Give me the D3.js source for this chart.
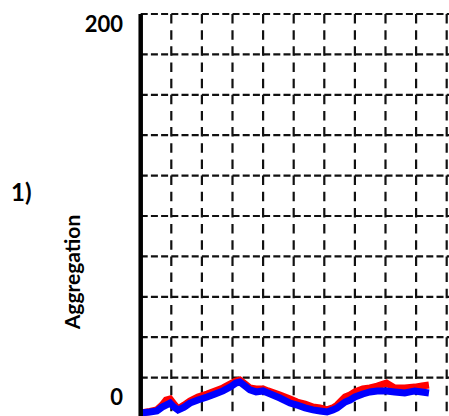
<!DOCTYPE html>
<html>
<head>
<meta charset="utf-8">
<script src="https://cdn.jsdelivr.net/npm/d3@7"></script>
<style>
  html, body { margin: 0; padding: 0; background: #fff; }
  svg { display: block; }
  text { font-family: Lato, "Open Sans", sans-serif; font-weight: 700; fill: #000; }
</style>
</head>
<body>
<svg id="chart" width="449" height="416"></svg>
<script>
// Time axis (arbitrary units, 0-100 across the panel)
const time = [0, 3, 5.3, 7, 8.3, 9.6, 10.9, 12.2, 14.2, 16.1, 18.7, 21.7, 24.3, 26.9, 29.2, 31.1,
  32.4, 34.1, 35.7, 37.7, 40, 41.6, 45.5, 48.8, 51.1, 53.7, 56.3, 58.6, 60.9, 62.8, 64.2, 66.8,
  68.4, 70, 72.6, 74.9, 77.3, 80.3, 83, 86.3, 89.6, 91.9, 94.2];

// Aggregation, red series
const aggregationRed = [2.5, 3.2, 4.0, 6.4, 8.9, 9.4, 6.9, 4.5, 6.4, 8.4, 10.4, 11.9, 13.4, 14.9, 16.8, 18.3,
  18.8, 16.8, 14.9, 14.4, 14.4, 13.4, 11.4, 9.4, 7.9, 6.9, 5.4, 5.0, 4.0, 5.0, 6.4, 10.4,
  11.4, 12.9, 14.4, 14.9, 15.8, 17.3, 14.9, 14.9, 15.3, 15.8, 16.3];

// Aggregation, blue series
const aggregationBlue = [2.5, 3.0, 3.5, 5.4, 6.4, 7.4, 5.4, 4.0, 5.4, 7.4, 8.9, 10.4, 11.9, 13.4, 15.3, 17.3,
  17.8, 15.8, 13.9, 12.9, 13.4, 12.4, 9.9, 7.4, 6.4, 5.0, 4.0, 3.5, 3.0, 4.0, 5.0, 7.9,
  8.9, 10.4, 11.9, 12.9, 13.4, 13.4, 12.9, 12.4, 13.4, 12.9, 12.4];

const yTickLabels = [0, 200];
const xGridValues = [10, 20, 30, 40, 50, 60, 70, 80, 90, 100];
const yGridValues = [20, 40, 60, 80, 100, 120, 140, 160, 180, 200];

const svg = d3.select("#chart");

const x = d3.scaleLinear().domain([0, 100]).range([140.7, 446.7]);
const y = d3.scaleLinear().domain([0, 200]).range([418, 14]);

// Dashed grid
const grid = svg.append("g").attr("stroke", "#111").attr("stroke-width", 2.2).attr("fill", "none");

grid.selectAll("line.h").data(yGridValues).join("line")
  .attr("class", "h")
  .attr("x1", x(0)).attr("x2", x(100) + 3)
  .attr("y1", d => y(d)).attr("y2", d => y(d))
  .attr("stroke-dasharray", "7,3.2");

grid.selectAll("line.v").data(xGridValues).join("line")
  .attr("class", "v")
  .attr("x1", d => x(d)).attr("x2", d => x(d))
  .attr("y1", y(200)).attr("y2", y(0))
  .attr("stroke-dasharray", "9.5,6.66");

// Data lines: red underneath, blue on top
const line = d3.line()
  .x((d, i) => x(time[i]))
  .y(d => y(d));

svg.append("path")
  .datum(aggregationRed)
  .attr("d", line)
  .attr("fill", "none")
  .attr("stroke", "#ff0000")
  .attr("stroke-width", 7)
  .attr("stroke-linejoin", "miter")
  .attr("stroke-linecap", "butt");

svg.append("path")
  .datum(aggregationBlue)
  .attr("d", line)
  .attr("fill", "none")
  .attr("stroke", "#0000ff")
  .attr("stroke-width", 7)
  .attr("stroke-linejoin", "miter")
  .attr("stroke-linecap", "butt");

// Thick y axis line
svg.append("line")
  .attr("x1", x(0)).attr("x2", x(0))
  .attr("y1", y(200)).attr("y2", y(0))
  .attr("stroke", "#000")
  .attr("stroke-width", 4.5);

// Tick labels at the ends of the axis
svg.selectAll("text.tick").data(yTickLabels).join("text")
  .attr("class", "tick")
  .attr("x", 123)
  .attr("y", d => d === 200 ? y(d) + 18 : y(d) - 13)
  .attr("text-anchor", "end")
  .attr("font-size", 22)
  .text(d => d);

// Panel label
svg.append("text")
  .attr("x", 11)
  .attr("y", 201)
  .attr("font-size", 24)
  .text("1)");

// Axis title
svg.append("text")
  .attr("transform", "translate(80,272) rotate(-90)")
  .attr("text-anchor", "middle")
  .attr("font-size", 21)
  .text("Aggregation");
</script>
</body>
</html>
